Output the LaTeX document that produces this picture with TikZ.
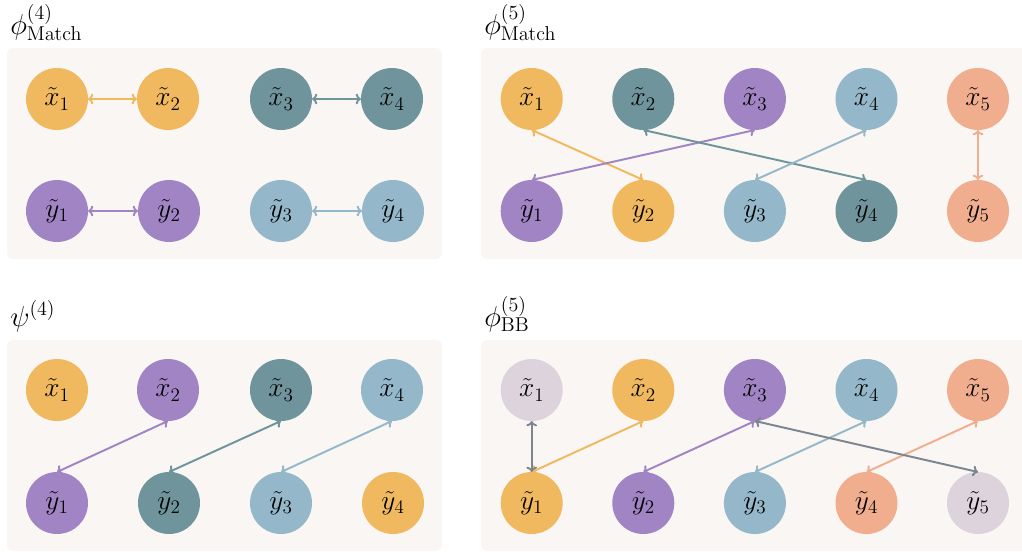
\documentclass[tikz,border=0pt]{standalone}
\usepackage{fix-cm}
\usetikzlibrary{arrows.meta}
\definecolor{cYel}{HTML}{F0B95F}
\definecolor{cTeal}{HTML}{6F949B}
\definecolor{cPur}{HTML}{A184C4}
\definecolor{cBlu}{HTML}{94B8CA}
\definecolor{cSal}{HTML}{F0AE8F}
\definecolor{cMau}{HTML}{DDD3DC}
\definecolor{cGry}{HTML}{7D8590}
\definecolor{cBg}{HTML}{F9F6F3}
\tikzset{
  panel/.style={fill=cBg, draw=none, rounded corners=4pt},
  vnode/.style={circle, draw=none, minimum size=46.5pt, inner sep=0pt, outer sep=0pt, font=\fontsize{20.5}{24}\selectfont},
  ttl/.style={anchor=base west, inner sep=0pt, font=\fontsize{21.5}{26}\selectfont},
  link/.style={{To[length=4pt,width=8pt]}-{To[length=4pt,width=8pt]}, line width=1.45pt},
}
\begin{document}
\begin{tikzpicture}[x=0.75pt,y=-0.75pt]
\useasboundingbox (0,0) rectangle (1022,554);
\begin{scope}
\clip (0,0) rectangle (1022,554);
% panels
\path[panel] (7,48) rectangle (442,259);
\path[panel] (481,48) rectangle (1030,259);
\path[panel] (7,340) rectangle (442,551);
\path[panel] (481,340) rectangle (1030,551);
\end{scope}

% titles
\node[ttl] (t1) at (10,34) {$\phi^{(4)}_{\mathrm{Match}}$};
\node[ttl] (t2) at (484,34) {$\phi^{(5)}_{\mathrm{Match}}$};
\node[ttl] (t3) at (10,326) {$\psi^{(4)}$};
\node[ttl] (t4) at (484,326) {$\phi^{(5)}_{\mathrm{BB}}$};

% ---------- panel 1
\node[vnode, fill=cYel]  (a1) at (57,99)  {$\tilde{x}_1$};
\node[vnode, fill=cYel]  (a2) at (168,99) {$\tilde{x}_2$};
\node[vnode, fill=cTeal] (a3) at (281,99) {$\tilde{x}_3$};
\node[vnode, fill=cTeal] (a4) at (392,99) {$\tilde{x}_4$};
\node[vnode, fill=cPur]  (b1) at (57,211)  {$\tilde{y}_1$};
\node[vnode, fill=cPur]  (b2) at (169,211) {$\tilde{y}_2$};
\node[vnode, fill=cBlu]  (b3) at (281,211) {$\tilde{y}_3$};
\node[vnode, fill=cBlu]  (b4) at (393,211) {$\tilde{y}_4$};
\draw[link, cYel]  (a1.east) -- (a2.west);
\draw[link, cTeal] (a3.east) -- (a4.west);
\draw[link, cPur]  (b1.east) -- (b2.west);
\draw[link, cBlu]  (b3.east) -- (b4.west);

% ---------- panel 2
\node[vnode, fill=cYel]  (c1) at (531.7,99) {$\tilde{x}_1$};
\node[vnode, fill=cTeal] (c2) at (643.3,99) {$\tilde{x}_2$};
\node[vnode, fill=cPur]  (c3) at (754.9,99) {$\tilde{x}_3$};
\node[vnode, fill=cBlu]  (c4) at (866.5,99) {$\tilde{x}_4$};
\node[vnode, fill=cSal]  (c5) at (978,99)   {$\tilde{x}_5$};
\node[vnode, fill=cPur]  (d1) at (531.7,211) {$\tilde{y}_1$};
\node[vnode, fill=cYel]  (d2) at (643.3,211) {$\tilde{y}_2$};
\node[vnode, fill=cBlu]  (d3) at (754.9,211) {$\tilde{y}_3$};
\node[vnode, fill=cTeal] (d4) at (866.5,211) {$\tilde{y}_4$};
\node[vnode, fill=cSal]  (d5) at (978,211)   {$\tilde{y}_5$};
\draw[link, cYel]  (c1.south) -- (d2.north);
\draw[link, cPur]  (c3.south) -- (d1.north);
\draw[link, cTeal] (c2.south) -- (d4.north);
\draw[link, cBlu]  (c4.south) -- (d3.north);
\draw[link, cSal]  (c5.south) -- (d5.north);

% ---------- panel 3
\node[vnode, fill=cYel]  (e1) at (57,390)  {$\tilde{x}_1$};
\node[vnode, fill=cPur]  (e2) at (168,390) {$\tilde{x}_2$};
\node[vnode, fill=cTeal] (e3) at (281,390) {$\tilde{x}_3$};
\node[vnode, fill=cBlu]  (e4) at (392,390) {$\tilde{x}_4$};
\node[vnode, fill=cPur]  (f1) at (57,503)  {$\tilde{y}_1$};
\node[vnode, fill=cTeal] (f2) at (169,503) {$\tilde{y}_2$};
\node[vnode, fill=cBlu]  (f3) at (281,503) {$\tilde{y}_3$};
\node[vnode, fill=cYel]  (f4) at (393,503) {$\tilde{y}_4$};
\draw[link, cPur]  (e2.south) -- (f1.north);
\draw[link, cTeal] (e3.south) -- (f2.north);
\draw[link, cBlu]  (e4.south) -- (f3.north);

% ---------- panel 4
\node[vnode, fill=cMau]  (g1) at (531.7,390) {$\tilde{x}_1$};
\node[vnode, fill=cYel]  (g2) at (643.3,390) {$\tilde{x}_2$};
\node[vnode, fill=cPur]  (g3) at (754.9,390) {$\tilde{x}_3$};
\node[vnode, fill=cBlu]  (g4) at (866.5,390) {$\tilde{x}_4$};
\node[vnode, fill=cSal]  (g5) at (978,390)   {$\tilde{x}_5$};
\node[vnode, fill=cYel]  (h1) at (531.7,503) {$\tilde{y}_1$};
\node[vnode, fill=cPur]  (h2) at (643.3,503) {$\tilde{y}_2$};
\node[vnode, fill=cBlu]  (h3) at (754.9,503) {$\tilde{y}_3$};
\node[vnode, fill=cSal]  (h4) at (866.5,503) {$\tilde{y}_4$};
\node[vnode, fill=cMau]  (h5) at (978,503)   {$\tilde{y}_5$};
\draw[link, cYel]  (g2.south) -- (h1.north);
\draw[link, cPur]  (g3.south) -- (h2.north);
\draw[link, cBlu]  (g4.south) -- (h3.north);
\draw[link, cSal]  (g5.south) -- (h4.north);
\draw[link, cGry]  (g1.south) -- (h1.north);
\draw[link, cGry]  (g3.south) -- (h5.north);
\end{tikzpicture}
\end{document}
